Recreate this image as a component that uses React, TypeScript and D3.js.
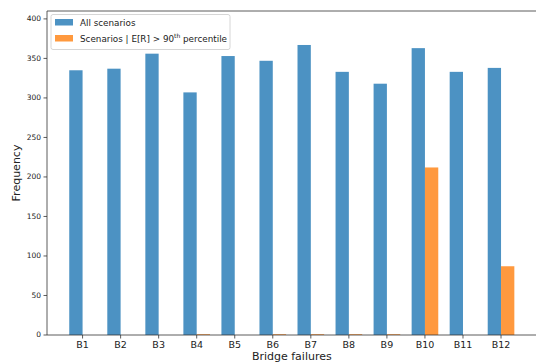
import React from "react";
import * as d3 from "d3";

const bridges = ["B1", "B2", "B3", "B4", "B5", "B6", "B7", "B8", "B9", "B10", "B11", "B12"];
const allScenarios = [335, 337, 356, 307, 353, 347, 367, 333, 318, 363, 333, 338];
const topScenarios = [0, 0, 0, 1, 0, 1, 1, 1, 1, 212, 0, 87];
const yTicks = [0, 50, 100, 150, 200, 250, 300, 350, 400];

const W = 536;
const H = 363;
const left = 47;
const top = 11;
const bottom = 335;
const barW = 0.35;

export default function App() {
  // continuous x like matplotlib: index positions, 5% margins
  const x = d3.scaleLinear().domain([-0.935, 11.935]).range([left, 536.6]);
  const y = d3.scaleLinear().domain([0, 410]).range([bottom, top]);
  const bw = x(barW) - x(0);
  const font = "DejaVu Sans, sans-serif";

  return (
    <svg width={W} height={H} style={{ position: "absolute", left: 0, top: 0, background: "#fff" }} fontFamily={font}>
      {bridges.map((b, i) => (
        <g key={b}>
          <rect x={x(i - barW)} y={y(allScenarios[i])} width={bw} height={y(0) - y(allScenarios[i])} fill="#1f77b4" fillOpacity={0.8} />
          <rect x={x(i)} y={y(topScenarios[i])} width={bw} height={y(0) - y(topScenarios[i])} fill="#ff7f0e" fillOpacity={0.8} />
        </g>
      ))}

      {/* spines */}
      <line x1={left} x2={left} y1={top} y2={bottom} stroke="#333" strokeWidth={0.8} />
      <line x1={left} x2={W} y1={bottom} y2={bottom} stroke="#333" strokeWidth={0.8} />
      <line x1={left} x2={W} y1={top} y2={top} stroke="#333" strokeWidth={0.8} />

      {yTicks.map((t) => (
        <g key={t}>
          <line x1={left - 3.5} x2={left} y1={y(t)} y2={y(t)} stroke="#333" strokeWidth={0.8} />
          <text x={left - 6} y={y(t)} dy="0.32em" textAnchor="end" fontSize={7.5} fill="#222">{t}</text>
        </g>
      ))}
      {bridges.map((b, i) => (
        <g key={b}>
          <line x1={x(i)} x2={x(i)} y1={bottom} y2={bottom + 3.5} stroke="#333" strokeWidth={0.8} />
          <text x={x(i)} y={bottom + 13} textAnchor="middle" fontSize={9.5} fill="#222">{b}</text>
        </g>
      ))}

      <text x={(left + 536.6) / 2} y={360} textAnchor="middle" fontSize={11} fill="#222">Bridge failures</text>
      <text transform={`translate(20,${(top + bottom) / 2}) rotate(-90)`} textAnchor="middle" fontSize={11} fill="#222">Frequency</text>

      {/* legend */}
      <rect x={51} y={14.5} width={179} height={35} rx={2} fill="#fff" fillOpacity={0.8} stroke="#ccc" strokeWidth={0.8} />
      <rect x={55} y={19} width={18} height={6.5} fill="#1f77b4" fillOpacity={0.8} />
      <text x={80} y={22.5} dy="0.35em" fontSize={8.8} fill="#222">All scenarios</text>
      <rect x={55} y={35} width={18} height={6.5} fill="#ff7f0e" fillOpacity={0.8} />
      <text x={80} y={38.5} dy="0.35em" fontSize={8.8} fill="#222">
        Scenarios | E[R] &gt; 90<tspan fontSize={6} dy={-4}>th</tspan>
        <tspan dy={4}> percentile</tspan>
      </text>
    </svg>
  );
}
